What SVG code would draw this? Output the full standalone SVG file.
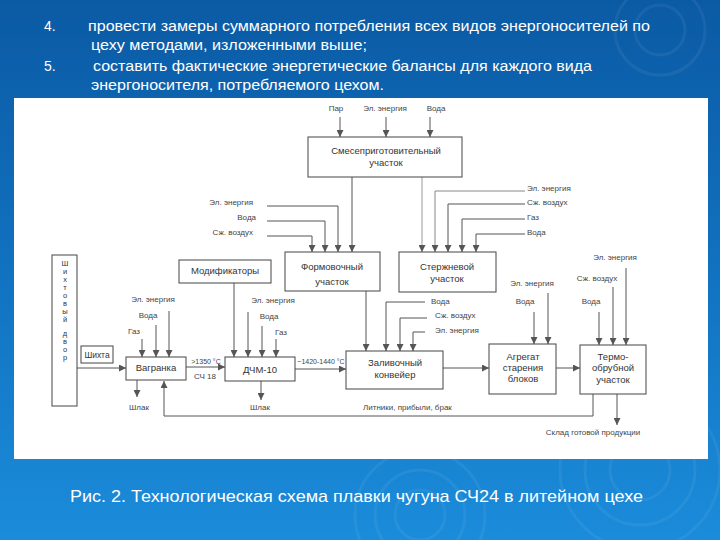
<svg xmlns="http://www.w3.org/2000/svg" width="720" height="540" viewBox="0 0 720 540">
<defs>
<linearGradient id="bg" x1="0" y1="0" x2="0" y2="1">
<stop offset="0" stop-color="#0b5aa4"/>
<stop offset="0.5" stop-color="#1172c0"/>
<stop offset="1" stop-color="#1b8cda"/>
</linearGradient>
<marker id="ar" markerUnits="userSpaceOnUse" markerWidth="7" markerHeight="7" refX="7" refY="3.5" orient="auto">
<path d="M0,0 L7,3.5 L0,7 z" fill="#555"/>
</marker>
<style>
.hd{font-family:"Liberation Sans",Arial,sans-serif;font-size:14px;fill:#fff}
.cap{font-family:"Liberation Sans",Arial,sans-serif;font-size:17px;fill:#fff}
.bx{fill:#fff;stroke:#444;stroke-width:1}
.bt{font-family:"Liberation Sans",Arial,sans-serif;font-size:9.5px;fill:#333;text-anchor:middle}
.vt{font-family:"Liberation Sans",Arial,sans-serif;font-size:7.5px;fill:#333;text-anchor:middle}
.lb{font-family:"Liberation Sans",Arial,sans-serif;font-size:8px;fill:#444}
.m{text-anchor:middle}
.e{text-anchor:end}
.cn path{fill:none;stroke:#555;stroke-width:1;marker-end:url(#ar)}
.rip{fill:none;stroke:#fff;stroke-opacity:0.06;stroke-width:3}
</style>
</defs>
<rect x="0" y="0" width="720" height="540" fill="url(#bg)"/>
<g class="rip">
<circle cx="640" cy="470" r="30"/><circle cx="640" cy="470" r="55"/><circle cx="640" cy="470" r="80"/>
<circle cx="420" cy="515" r="25"/><circle cx="420" cy="515" r="45"/><circle cx="420" cy="515" r="65"/>
<circle cx="660" cy="30" r="25"/><circle cx="660" cy="30" r="45"/>
</g>
<g id="header">
<text class="hd" x="44" y="31">4.</text>
<text class="hd" x="88" y="31" textLength="562" lengthAdjust="spacingAndGlyphs">провести замеры суммарного потребления всех видов энергоносителей по</text>
<text class="hd" x="91" y="50" textLength="276" lengthAdjust="spacingAndGlyphs">цеху методами, изложенными выше;</text>
<text class="hd" x="44" y="71">5.</text>
<text class="hd" x="93" y="71" textLength="499" lengthAdjust="spacingAndGlyphs">составить фактические энергетические балансы для каждого вида</text>
<text class="hd" x="91" y="90" textLength="293" lengthAdjust="spacingAndGlyphs">энергоносителя, потребляемого цехом.</text>
</g>
<rect x="14" y="98" width="694" height="361" fill="#fff"/>
<g id="connectors" class="cn">
<path d="M340,117 V137"/>
<path d="M386,117 V137"/>
<path d="M430,117 V137"/>
<path d="M352,177 V252"/>
<path d="M422,177 V252" style="stroke:#999"/>
<path d="M267,206 H338 V252"/>
<path d="M267,221 H325 V252"/>
<path d="M267,236 H312 V252"/>
<path d="M525,191 H435 V252" style="stroke:#888"/>
<path d="M525,204 H448 V252"/>
<path d="M525,219 H462 V252"/>
<path d="M525,234 H476 V252"/>
<path d="M366,291 V351"/>
<path d="M425,302 H386 V351"/>
<path d="M427,318 H400 V351"/>
<path d="M425,332 H413 V351"/>
<path d="M234,283 V357"/>
<path d="M248,312 V357"/>
<path d="M262,326 V357"/>
<path d="M276,339 V357"/>
<path d="M261,381 V400"/>
<path d="M295,369 H346"/>
<path d="M169,311 V357"/>
<path d="M156,325 V357"/>
<path d="M142,339 V357"/>
<path d="M137,380 V397"/>
<path d="M186,367 H225"/>
<path d="M77,368 H126"/>
<path d="M443,368 H489"/>
<path d="M556,368 H580"/>
<path d="M534,312 V344"/>
<path d="M548,293 V344"/>
<path d="M599,312 V345"/>
<path d="M613,287 V345"/>
<path d="M626,268 V345"/>
<path d="M617,394 V425"/>
<path d="M593,394 V416 H164 V381"/>
</g>
<g id="smes">
<rect class="bx" x="308" y="137" width="154" height="40"/>
<text class="bt" x="386" y="154">Смесеприготовительный</text>
<text class="bt" x="386" y="166">участок</text>
</g>
<g id="form">
<rect class="bx" x="285" y="252" width="95" height="39"/>
<text class="bt" x="332" y="270">Формовочный</text>
<text class="bt" x="332" y="285">участок</text>
</g>
<g id="sterzh">
<rect class="bx" x="399" y="252" width="97" height="40"/>
<text class="bt" x="447" y="270">Стержневой</text>
<text class="bt" x="447" y="282">участок</text>
</g>
<g id="modif">
<rect class="bx" x="179" y="260" width="92" height="23"/>
<text class="bt" x="225" y="274">Модификаторы</text>
</g>
<g id="dvor">
<rect class="bx" x="52" y="255" width="25" height="151"/>
<g class="vt">
<text x="65" y="266">Ш</text><text x="65" y="274">и</text><text x="65" y="282">х</text><text x="65" y="290">т</text>
<text x="65" y="298">о</text><text x="65" y="306">в</text><text x="65" y="314">ы</text><text x="65" y="322">й</text>
<text x="65" y="336">д</text><text x="65" y="344">в</text><text x="65" y="352">о</text><text x="65" y="360">р</text>
</g>
</g>
<g id="shihta">
<rect class="bx" x="81" y="346" width="32" height="17"/>
<text class="bt" x="97" y="358" style="font-size:8.5px">Шихта</text>
</g>
<g id="vagranka">
<rect class="bx" x="126" y="357" width="60" height="23"/>
<text class="bt" x="156" y="371">Вагранка</text>
</g>
<g id="dchm">
<rect class="bx" x="225" y="357" width="70" height="24"/>
<text class="bt" x="260" y="373">ДЧМ-10</text>
</g>
<g id="zaliv">
<rect class="bx" x="346" y="351" width="97" height="38"/>
<text class="bt" x="395" y="366">Заливочный</text>
<text class="bt" x="395" y="378">конвейер</text>
</g>
<g id="agregat">
<rect class="bx" x="489" y="344" width="67" height="50"/>
<text class="bt" x="523" y="360">Агрегат</text>
<text class="bt" x="523" y="371">старения</text>
<text class="bt" x="523" y="382">блоков</text>
</g>
<g id="termo">
<rect class="bx" x="580" y="345" width="66" height="49"/>
<text class="bt" x="613" y="360">Термо-</text>
<text class="bt" x="613" y="371">обрубной</text>
<text class="bt" x="613" y="383">участок</text>
</g>
<g id="labels" class="lb">
<text class="m" x="336" y="111">Пар</text>
<text class="m" x="385" y="111">Эл. энергия</text>
<text class="m" x="436" y="111">Вода</text>
<text class="e" x="253" y="205">Эл. энергия</text>
<text class="e" x="256" y="220">Вода</text>
<text class="e" x="253" y="235">Сж. воздух</text>
<text x="527" y="191">Эл. энергия</text>
<text x="527" y="205">Сж. воздух</text>
<text x="527" y="220">Газ</text>
<text x="527" y="235">Вода</text>
<text x="431" y="304">Вода</text>
<text x="435" y="318">Сж. воздух</text>
<text x="435" y="333">Эл. энергия</text>
<text class="m" x="273" y="303">Эл. энергия</text>
<text class="m" x="269" y="319">Вода</text>
<text class="m" x="281" y="335">Газ</text>
<text class="m" x="153" y="302">Эл. энергия</text>
<text class="m" x="148" y="318">Вода</text>
<text class="m" x="134" y="334">Газ</text>
<text class="m" x="139" y="410">Шлак</text>
<text class="m" x="260" y="410">Шлак</text>
<text class="m" x="206" y="364" style="font-size:7px">&gt;1350 °С</text>
<text class="m" x="205" y="379">СЧ 18</text>
<text class="m" x="321" y="364" style="font-size:7px">~1420-1440 °С</text>
<text x="363" y="410">Литники, прибыли, брак</text>
<text class="m" x="532" y="286">Эл. энергия</text>
<text class="m" x="525" y="304">Вода</text>
<text class="m" x="615" y="260">Эл. энергия</text>
<text class="m" x="597" y="281">Сж. воздух</text>
<text class="m" x="591" y="304">Вода</text>
<text class="m" x="593" y="435">Склад готовой продукции</text>
</g>
<text class="cap" x="70" y="502" textLength="573" lengthAdjust="spacingAndGlyphs">Рис. 2. Технологическая схема плавки чугуна СЧ24 в литейном цехе</text>
</svg>
